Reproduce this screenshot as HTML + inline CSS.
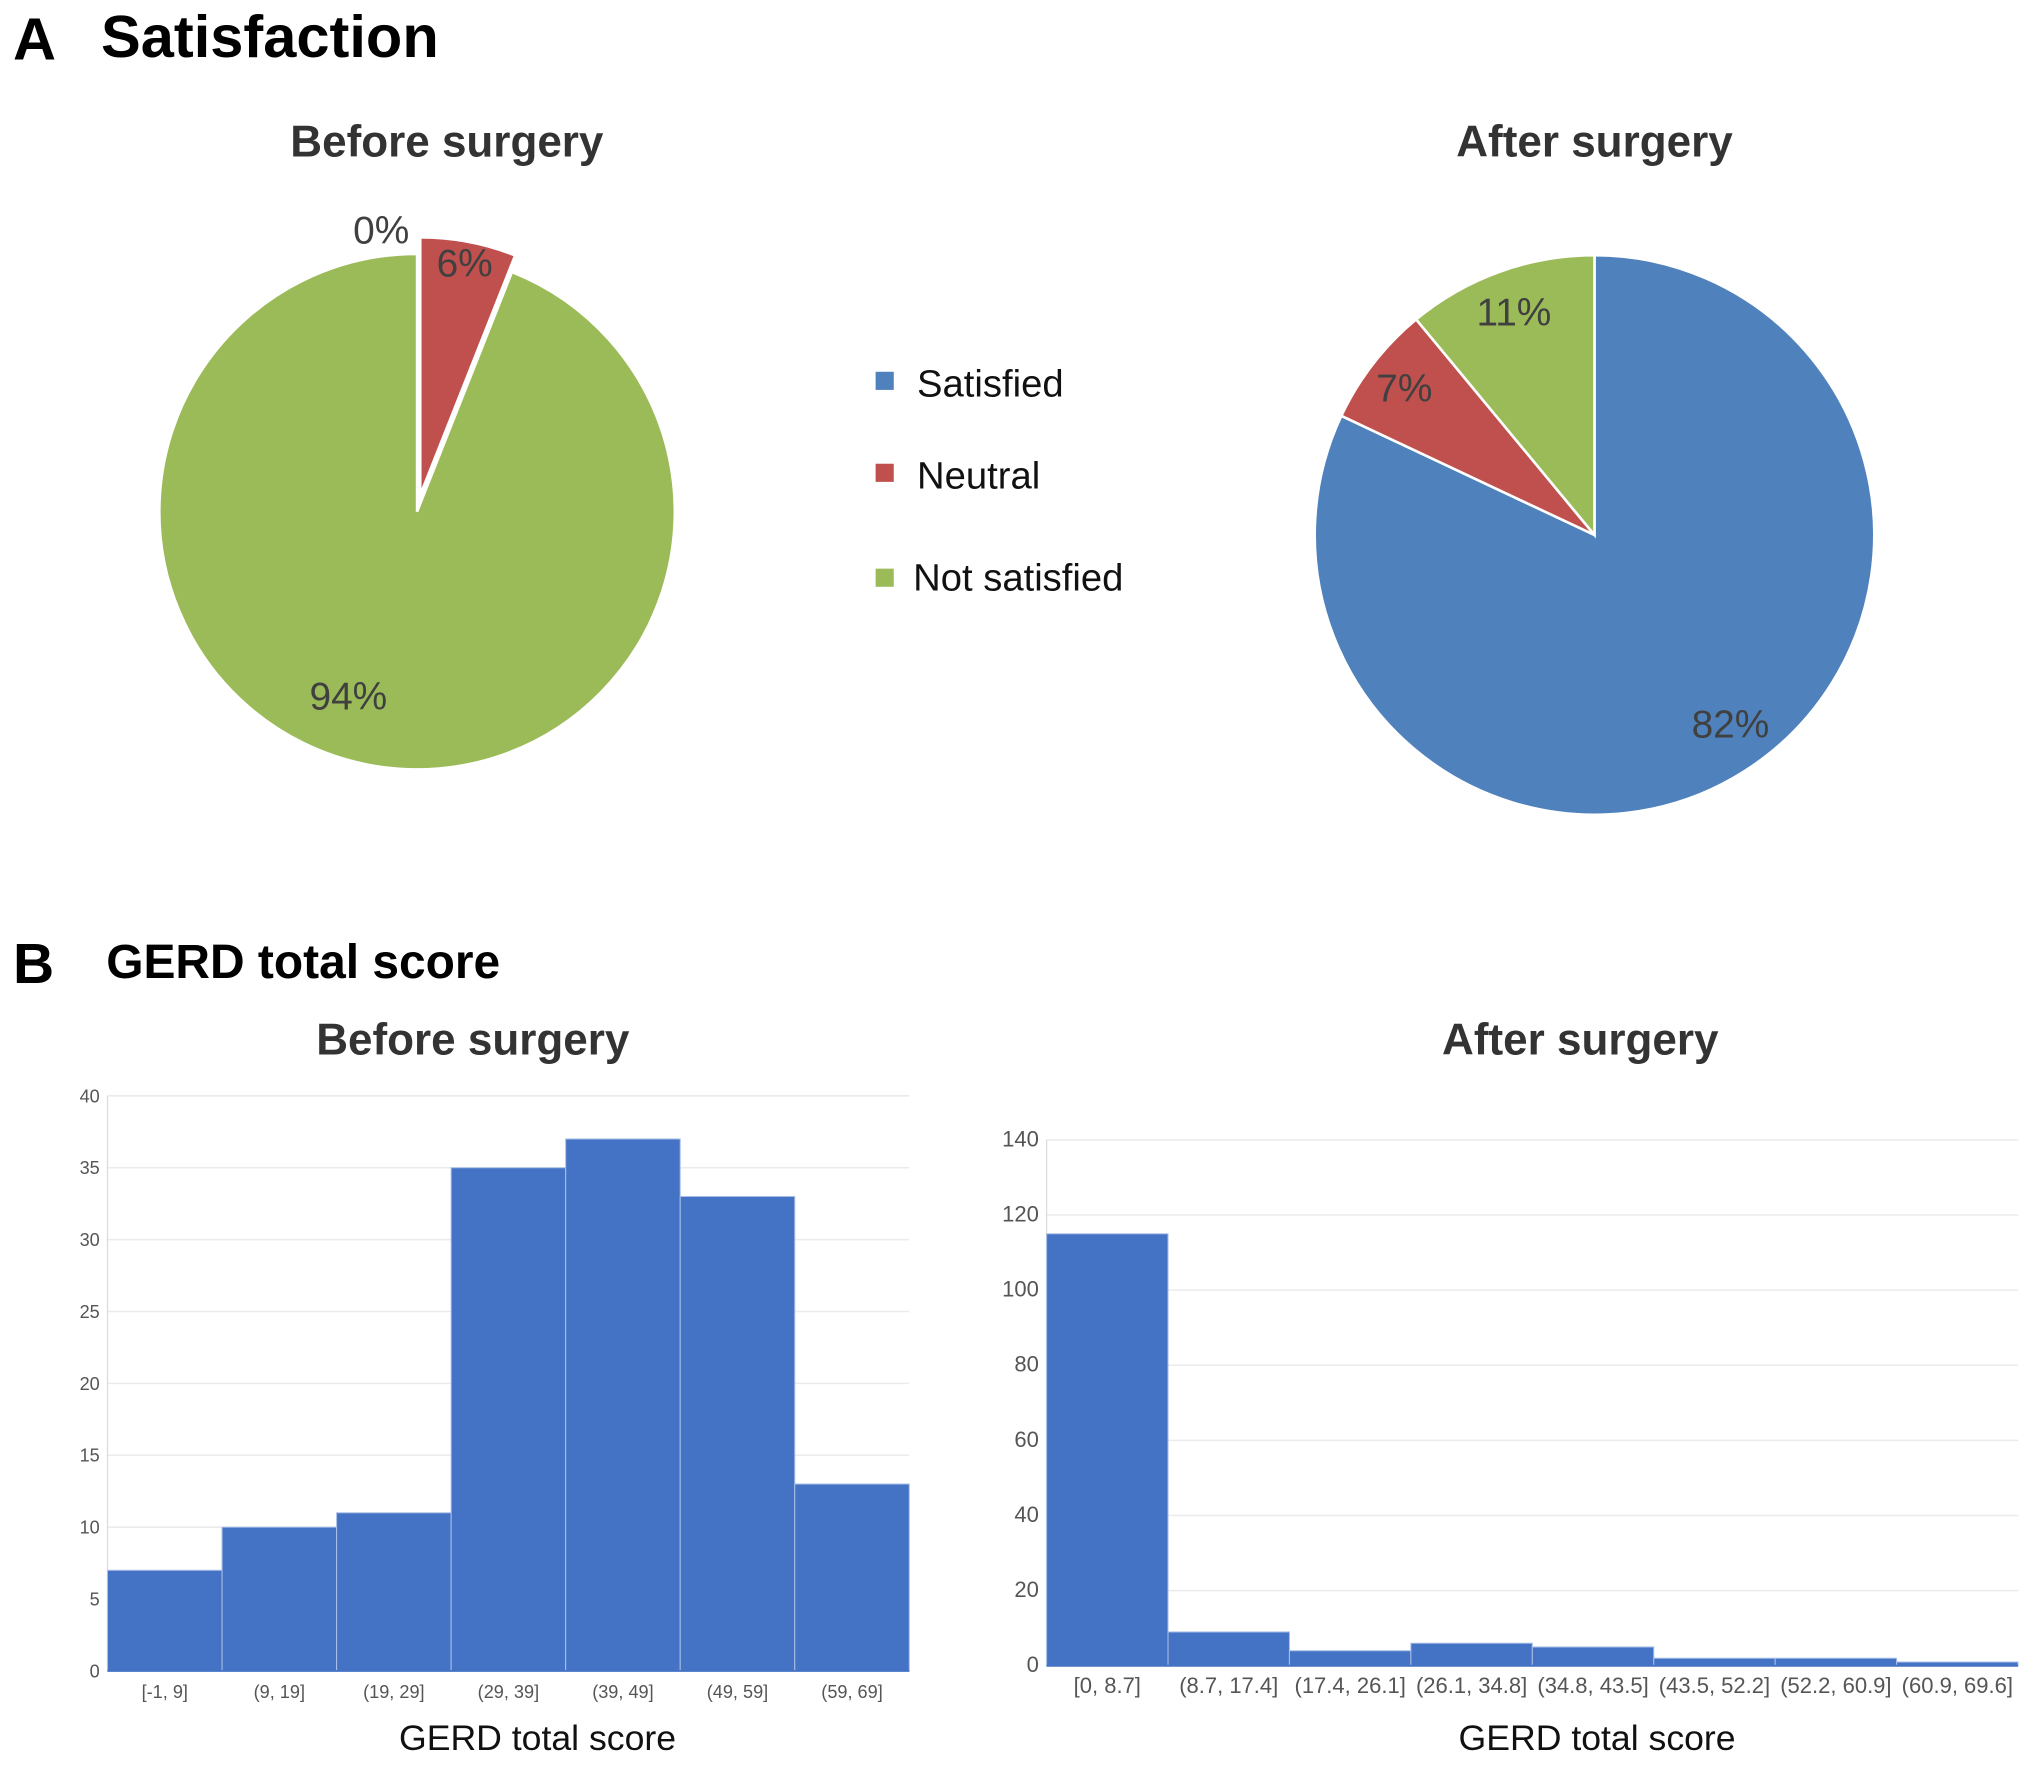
<!DOCTYPE html>
<html><head><meta charset="utf-8"><style>
html,body{margin:0;padding:0;background:#fff;}
svg{display:block;font-family:"Liberation Sans",Arial,sans-serif;}
</style></head><body>
<svg id="fig" width="2031" height="1765" viewBox="0 0 1568 1362.6" xmlns="http://www.w3.org/2000/svg">
<text x="10" y="46" font-size="46" font-weight="bold" fill="#000">A</text>
<text x="78" y="44" font-size="46" font-weight="bold" fill="#000">Satisfaction</text>
<text x="345" y="121" font-size="34" font-weight="bold" fill="#333" text-anchor="middle">Before surgery</text>
<text x="1231" y="121" font-size="34" font-weight="bold" fill="#333" text-anchor="middle">After surgery</text>
<g id="pies"></g>
<g>
<rect x="676" y="287" width="14" height="14" fill="#4f81bd"/>
<text x="708" y="306" font-size="29.5" fill="#111">Satisfied</text>
<rect x="676" y="358" width="14" height="14" fill="#c0504d"/>
<text x="708" y="377" font-size="29.5" fill="#111">Neutral</text>
<rect x="676" y="439" width="14" height="14" fill="#9bbb59"/>
<text x="705" y="456" font-size="29.5" fill="#111">Not satisfied</text>
</g>
<text x="10" y="759" font-size="44" font-weight="bold" fill="#000">B</text>
<text x="82" y="755" font-size="37" font-weight="bold" fill="#000">GERD total score</text>
<text x="365" y="814" font-size="34" font-weight="bold" fill="#333" text-anchor="middle">Before surgery</text>
<text x="1220" y="814" font-size="34" font-weight="bold" fill="#333" text-anchor="middle">After surgery</text>
<g id="hists"></g>
</svg>
<script>
// Pie data
const pieCategories = ["Satisfied", "Neutral", "Not satisfied"];
const pieBeforeValues = [0, 6, 94];
const pieAfterValues = [82, 7, 11];
// Histogram data
const histBeforeBins = ["[-1, 9]", "(9, 19]", "(19, 29]", "(29, 39]", "(39, 49]", "(49, 59]", "(59, 69]"];
const histBeforeCounts = [7, 10, 11, 35, 37, 33, 13];
const histBeforeTicks = [0, 5, 10, 15, 20, 25, 30, 35, 40];
const histAfterBins = ["[0, 8.7]", "(8.7, 17.4]", "(17.4, 26.1]", "(26.1, 34.8]", "(34.8, 43.5]", "(43.5, 52.2]", "(52.2, 60.9]", "(60.9, 69.6]"];
const histAfterCounts = [115, 9, 4, 6, 5, 2, 2, 1];
const histAfterTicks = [0, 20, 40, 60, 80, 100, 120, 140];

const NS = "http://www.w3.org/2000/svg";
const colors = ["#4f81bd", "#c0504d", "#9bbb59"];
function mk(tag, attrs, parent) {
  const e = document.createElementNS(NS, tag);
  for (const k in attrs) e.setAttribute(k, attrs[k]);
  parent.appendChild(e);
  return e;
}
function drawPie(values, cx, cy, r, labelFracs, angleShift, explodeIdx, prefix) {
  const g = document.getElementById("pies");
  const total = values.reduce((a, b) => a + b, 0);
  let acc = 0;
  values.forEach((v, i) => {
    const a0 = acc / total * 2 * Math.PI;
    acc += v;
    const a1 = acc / total * 2 * Math.PI;
    const mid = (a0 + a1) / 2;
    let ox = 0, oy = 0;
    if (i === explodeIdx) { ox = 13 * Math.sin(mid); oy = -13 * Math.cos(mid); }
    const x = cx + ox, y = cy + oy;
    if (v > 0) {
      const p = mk("path", {
        d: `M${x},${y} L${x + r * Math.sin(a0)},${y - r * Math.cos(a0)} A${r},${r} 0 ${a1 - a0 > Math.PI ? 1 : 0} 1 ${x + r * Math.sin(a1)},${y - r * Math.cos(a1)} Z`,
        fill: colors[i], stroke: "#fff", "stroke-width": 2
      }, g);
      
      
    }
    let lx, ly, anchor = "middle";
    if (v === 0) { lx = cx - 6; ly = cy - r * 1.04; anchor = "end"; }
    else {
      const lr = r * labelFracs[i];
      const la = mid + angleShift[i];
      lx = x + lr * Math.sin(la); ly = y - lr * Math.cos(la) + 11;
    }
    const t = mk("text", { x: lx, y: ly, "font-size": 30, fill: "#404040", "text-anchor": anchor }, g);
    t.textContent = v + "%";
    
    
  });
}
drawPie(pieBeforeValues, 322, 395, 199, [1, 0.92, 0.76], [0, 0, 0.17], 1, "pie-before");
drawPie(pieAfterValues, 1231, 413, 216, [0.83, 0.86, 0.85], [-0.06, 0, 0], -1, "pie-after");

function drawHist(bins, counts, ticks, x0, x1, yBase, yTop, tickFs, xlabY, titleX, prefix) {
  const g = document.getElementById("hists");
  const maxT = ticks[ticks.length - 1];
  const ys = v => yBase - (v / maxT) * (yBase - yTop);
  const bw = (x1 - x0) / bins.length;
  ticks.forEach(t => {
    if (t > 0) {
      const l = mk("line", { x1: x0, x2: x1, y1: ys(t), y2: ys(t), stroke: "#ebebeb", "stroke-width": 1.2 }, g);
      
      
    }
    const tx = mk("text", { x: x0 - 6, y: ys(t) + 5, "font-size": tickFs, fill: "#555", "text-anchor": "end" }, g);
    tx.textContent = t;
    
    
  });
  const ax = mk("line", { x1: x0, x2: x0, y1: yTop, y2: yBase, stroke: "#ddd", "stroke-width": 1 }, g);
  
  
  counts.forEach((c, i) => {
    const b = mk("rect", { x: x0 + i * bw, y: ys(c), width: bw, height: yBase - ys(c), fill: "#4472c4", stroke: "#a9bfe6", "stroke-width": 0.8 }, g);
    
    
    const t = mk("text", { x: x0 + (i + 0.5) * bw, y: xlabY, "font-size": tickFs, fill: "#555", "text-anchor": "middle" }, g);
    t.textContent = bins[i];
    
    
  });
  const base = mk("line", { x1: x0, x2: x1, y1: yBase, y2: yBase, stroke: "#4472c4", "stroke-width": 1.5 }, g);
  
  
  const at = mk("text", { x: titleX, y: 1351, "font-size": 27.5, fill: "#111", "text-anchor": "middle" }, g);
  at.textContent = "GERD total score";
  
  
}
drawHist(histBeforeBins, histBeforeCounts, histBeforeTicks, 83, 702, 1290, 846, 14, 1311, 415, "hist-before");
drawHist(histAfterBins, histAfterCounts, histAfterTicks, 808, 1558, 1286, 880, 17, 1307, 1233, "hist-after");
</script>
</body></html>
